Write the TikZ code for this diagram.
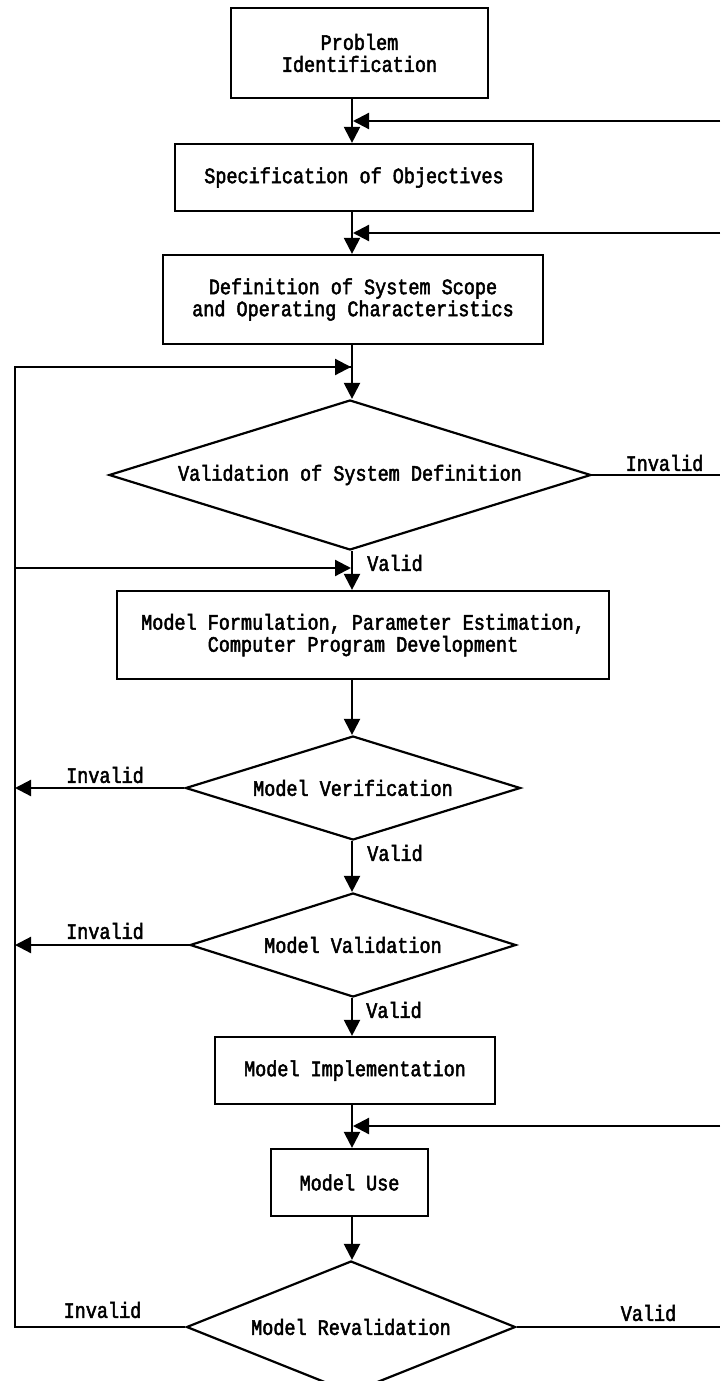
\documentclass[tikz,border=0pt]{standalone}
\usepackage{fontspec}
\newfontfamily\tw{Liberation Mono}[FakeBold=2.2,FakeStretch=0.84]
\usetikzlibrary{shapes.geometric,arrows.meta}
\tikzset{
  txt/.style={font={\tw\fontsize{22pt}{22pt}\selectfont}},
  box/.style={txt, draw, rectangle, line width=2.2pt, inner sep=0pt, align=center},
  dec/.style={txt, draw, diamond, line width=2.2pt, inner sep=0pt},
  lbl/.style={txt, inner sep=0pt},
  wire/.style={line width=2.2pt},
  flow/.style={line width=2.2pt, -{Triangle[length=16pt,width=16pt]}},
}
\begin{document}
\begin{tikzpicture}[x=1pt,y=-1pt]
\useasboundingbox (0,0) rectangle (720,1381);
\fill[white] (0,0) rectangle (720,1381);

% spine and left rail
\coordinate (sp) at (352,0);
\coordinate (lt) at (15,367);
\coordinate (fb2) at (15,568);
\coordinate (r1) at (720,121);
\coordinate (r2) at (720,233);
\coordinate (r3) at (720,1126);
\coordinate (rx) at (720,0);

% nodes
\node[box, minimum width=257pt, minimum height=90pt] (prob) at (359.5,53) {Problem\\Identification};
\node[box, minimum width=358pt, minimum height=67pt] (spec) at (354,177.5) {Specification of Objectives};
\node[box, minimum width=380pt, minimum height=89pt] (def) at (353,299.5) {Definition of System Scope\\and Operating Characteristics};
\node[dec, aspect=3.21, minimum width=482pt, minimum height=150pt] (vsd) at (350,475) {Validation of System Definition};
\node[box, minimum width=492pt, minimum height=88pt] (form) at (363,635) {Model Formulation, Parameter Estimation,\\Computer Program Development};
\node[dec, aspect=3.22, minimum width=335pt, minimum height=104pt] (verif) at (353,788) {Model Verification};
\node[dec, aspect=3.13, minimum width=326pt, minimum height=104pt] (mval) at (353,945) {Model Validation};
\node[box, minimum width=280pt, minimum height=67pt] (impl) at (355,1070.5) {Model Implementation};
\node[box, minimum width=157pt, minimum height=67pt] (use) at (349.5,1182.5) {Model Use};
\node[dec, aspect=2.49, minimum width=329pt, minimum height=132pt] (reval) at (351,1327) {Model Revalidation};

% labels
\node[lbl] (l1) at (664.5,463) {Invalid};
\node[lbl] (l2) at (395,563) {Valid};
\node[lbl] (l3) at (105,775) {Invalid};
\node[lbl] (l4) at (395,853) {Valid};
\node[lbl] (l5) at (105,931) {Invalid};
\node[lbl] (l6) at (394,1010) {Valid};
\node[lbl] (l7) at (102.5,1310) {Invalid};
\node[lbl] (l8) at (648.5,1313) {Valid};

% main flow
\draw[flow] (prob.south -| sp) -- (spec.north -| sp);
\draw[flow] (spec.south -| sp) -- (def.north -| sp);
\draw[flow] (def.south -| sp) -- (vsd.north -| sp);
\draw[flow] (vsd.south -| sp) -- (form.north -| sp);
\draw[flow] (form.south -| sp) -- (verif.north -| sp);
\draw[flow] (verif.south -| sp) -- (mval.north -| sp);
\draw[flow] (mval.south -| sp) -- (impl.north -| sp);
\draw[flow] (impl.south -| sp) -- (use.north -| sp);
\draw[flow] (use.south -| sp) -- (reval.north -| sp);

% right feedbacks (come in from the right edge)
\draw[flow] (r1) -- ([xshift=1pt]r1 -| sp);
\draw[flow] (r2) -- ([xshift=1pt]r2 -| sp);
\draw[flow] (r3) -- ([xshift=1pt]r3 -| sp);
\draw[wire] (vsd.east) -- (vsd.east -| rx);
\draw[wire] (reval.east) -- (reval.east -| rx);

% left rail
\draw[wire, line join=miter] (reval.west) -- (reval.west -| lt) -- (lt) -- ([xshift=-1pt]lt -| sp);
\draw[flow] (lt) -- ([xshift=-1pt]lt -| sp);
\draw[flow] (fb2) -- ([xshift=-1pt]fb2 -| sp);
\draw[flow] (verif.west) -- (verif.west -| lt);
\draw[flow] (mval.west) -- (mval.west -| lt);
\end{tikzpicture}
\end{document}
